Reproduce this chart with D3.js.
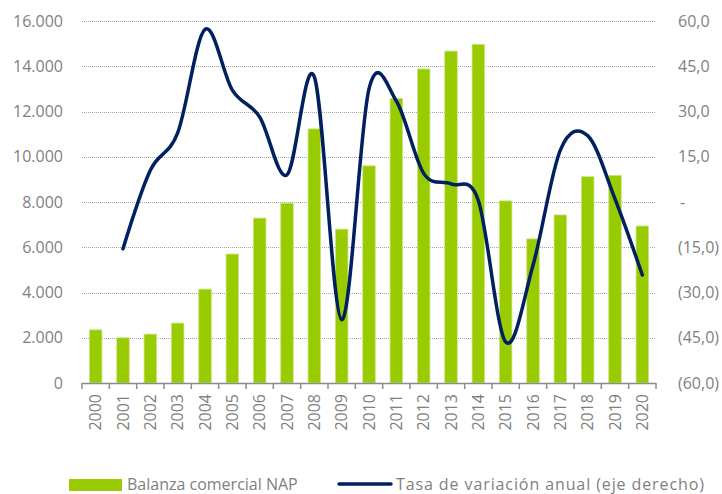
<!DOCTYPE html>
<html>
<head>
<meta charset="utf-8">
<style>
body { margin: 0; background: #fff; }
svg text { font-family: "Open Sans", "Noto Sans", sans-serif; fill: #7f7f7f; }
</style>
</head>
<body>
<svg width="722" height="494"></svg>
<script src="https://d3js.org/d3.v7.min.js"></script>
<script>
// datos
var years = ["2000","2001","2002","2003","2004","2005","2006","2007","2008","2009","2010",
             "2011","2012","2013","2014","2015","2016","2017","2018","2019","2020"];
var balanza = [2350, 2000, 2160, 2650, 4150, 5700, 7290, 7950, 11230, 6800, 9600,
               12580, 13880, 14670, 14970, 8050, 6370, 7430, 9120, 9180, 6940];
var tasa = [null, -15.5, 10.5, 22.9, 57.2, 37.1, 28.2, 9.0, 41.5, -39.0, 37.5,
            33.5, 9.5, 6.0, 0.5, -46.4, -21.0, 17.2, 22.0, 1.0, -24.2];
var leftTicks = [0, 2000, 4000, 6000, 8000, 10000, 12000, 14000, 16000];
var rightTicks = [-60, -45, -30, -15, 0, 15, 30, 45, 60];

var svg = d3.select("svg");
var pLeft = 82, pRight = 656, pTop = 21, pBottom = 383;

var x = d3.scaleBand().domain(years).range([pLeft, pRight]).paddingInner(0.54).paddingOuter(0.27);
var xb = d3.scaleBand().domain(years).range([pLeft, pRight]); // para ticks
var y = d3.scaleLinear().domain([0, 16000]).range([pBottom, pTop]);
var y2 = d3.scaleLinear().domain([-60, 60]).range([pBottom, pTop]);

var loc = d3.formatLocale({decimal: ",", thousands: ".", grouping: [3], currency: ["", ""]});
var fmtL = loc.format(",.0f");
var fmtR = function(v) {
  if (v == 0) return "-";
  var s = Math.abs(v).toFixed(1).replace(".", ",");
  return v < 0 ? "(" + s + ")" : s;
};

// lineas de rejilla
svg.append("g").selectAll("line")
  .data(leftTicks.filter(function(d) { return d > 0; }))
  .enter().append("line")
    .attr("x1", pLeft).attr("x2", pRight)
    .attr("y1", function(d) { return Math.round(y(d)) + 0.5; })
    .attr("y2", function(d) { return Math.round(y(d)) + 0.5; })
    .attr("stroke", "#a6a6a6").attr("stroke-width", 1)
    .attr("stroke-dasharray", "1,1");

// eje izquierdo
svg.append("g").selectAll("text")
  .data(leftTicks).enter().append("text")
    .attr("x", 63).attr("y", function(d) { return y(d); })
    .attr("dy", "0.35em").attr("text-anchor", "end")
    .attr("font-size", 16)
    .text(function(d) { return fmtL(d); });

// eje derecho
svg.append("g").selectAll("text")
  .data(rightTicks).enter().append("text")
    .attr("x", function(d) { return d == 0 ? 680 : 678; })
    .attr("y", function(d) { return y2(d); })
    .attr("dy", "0.35em").attr("text-anchor", "start")
    .attr("font-size", 16)
    .text(function(d) { return fmtR(d); });

// barras
svg.append("g").selectAll("rect")
  .data(balanza).enter().append("rect")
    .attr("x", function(d, i) { return x(years[i]); })
    .attr("width", x.bandwidth())
    .attr("y", function(d) { return y(d); })
    .attr("height", function(d) { return pBottom - y(d); })
    .attr("fill", "#99cc00")
    .attr("stroke", "#cde58a").attr("stroke-width", 0.8);

// eje x
var ax = svg.append("g");
ax.append("line")
  .attr("x1", pLeft).attr("x2", pRight)
  .attr("y1", pBottom + 0.5).attr("y2", pBottom + 0.5)
  .attr("stroke", "#8c8c8c").attr("stroke-width", 1.5);
ax.selectAll("line.tick")
  .data(years.concat(["end"])).enter().append("line")
    .attr("class", "tick")
    .attr("x1", function(d, i) { return i < years.length ? xb(d) : pRight; })
    .attr("x2", function(d, i) { return i < years.length ? xb(d) : pRight; })
    .attr("y1", pBottom).attr("y2", pBottom + 6)
    .attr("stroke", "#8c8c8c").attr("stroke-width", 1.5);
ax.selectAll("text")
  .data(years).enter().append("text")
    .attr("transform", function(d) {
      return "translate(" + (xb(d) + xb.bandwidth() / 2) + "," + (pBottom + 11) + ") rotate(-90)";
    })
    .attr("dy", "0.35em").attr("text-anchor", "end")
    .attr("font-size", 16)
    .text(function(d) { return d; });

// linea de tasa
var line = d3.line()
  .defined(function(d) { return d != null; })
  .x(function(d, i) { return xb(years[i]) + xb.bandwidth() / 2; })
  .y(function(d) { return y2(d); })
  .curve(d3.curveCardinal.tension(0));
svg.append("path")
  .datum(tasa)
  .attr("d", line)
  .attr("fill", "none")
  .attr("stroke", "#002060")
  .attr("stroke-width", 3.5)
  .attr("stroke-linecap", "round");

// leyenda
var lg = svg.append("g");
lg.append("rect").attr("x", 69).attr("y", 479).attr("width", 53).attr("height", 12).attr("fill", "#99cc00");
lg.append("text").attr("x", 127).attr("y", 484).attr("dy", "0.35em").attr("font-size", 16)
  .text("Balanza comercial NAP");
lg.append("line").attr("x1", 339).attr("x2", 391).attr("y1", 484).attr("y2", 484)
  .attr("stroke", "#002060").attr("stroke-width", 3.5).attr("stroke-linecap", "round");
lg.append("text").attr("x", 396).attr("y", 484).attr("dy", "0.35em").attr("font-size", 16)
  .attr("letter-spacing", 0.9)
  .text("Tasa de variación anual (eje derecho)");
</script>
</body>
</html>
